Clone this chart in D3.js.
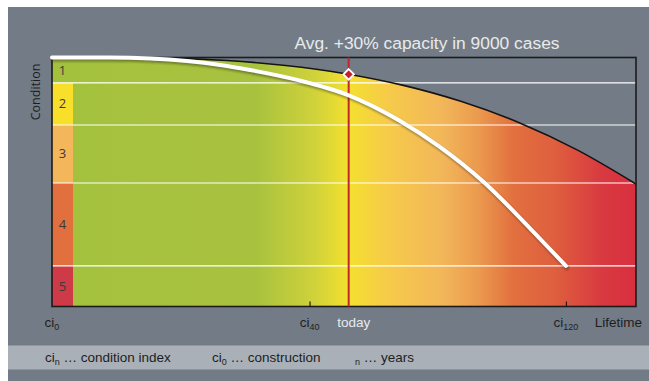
<!DOCTYPE html>
<html>
<head>
<meta charset="utf-8">
<script src="https://cdn.jsdelivr.net/npm/d3@7"></script>
<style>
  html, body { margin: 0; padding: 0; background: #ffffff; }
  svg { display: block; }
</style>
</head>
<body>
<svg id="chart" width="649" height="381"></svg>
<script>
// ---------- DATA ----------
const titleText = "Avg. +30% capacity in 9000 cases";
const conditionLabels = ["1", "2", "3", "4", "5"];
// condition scale: 0 = best (top), 100 = worst (bottom); band boundaries
const bandBounds = [0, 10.2, 27.1, 50.4, 83.7, 100];
const bandColors = ["#a4c13e", "#f7df2a", "#f3b65a", "#e1703e", "#ce3a48"];

// lifetime scale 0..100 (schematic)
const envelopeX = [0, 10, 20, 30, 40, 50, 60, 70, 80, 90, 100];
const envelopeY = [0, 0, 0.24, 1.2, 3.2, 6.4, 11.1, 17.6, 26.2, 37.2, 50.8];

const agingX = [0, 9.9, 16.8, 28.8, 33.9, 42, 50.7, 59.6, 66.4, 74.1, 81.8, 88];
const agingY = [0, 0, 0.4, 3.0, 5.0, 9.0, 15.1, 25.5, 35.9, 50.4, 68.5, 83.7];

const todayValue = 50.8;
const todayLabel = "today";
const tickValues = [0, 44.1, 88];
const tickSubs = ["0", "40", "120"];
const axisTitle = "Lifetime";
const yTitle = "Condition";

const gradientOffsets = [0, 35, 45, 50.8, 57, 67, 73, 79, 86, 94, 100];
const gradientColors = ["#a4c13e", "#a8c23e", "#d0d23a", "#f4e02e", "#f6cc48",
                        "#f2b65a", "#eb9a4e", "#e2703f", "#df5f3e", "#d93a40", "#d82f3f"];

const legendItems = [
  { main: "ci", sub: "n", rest: " \u2026 condition index" },
  { main: "ci", sub: "0", rest: " \u2026 construction" },
  { main: "",   sub: "n", rest: " \u2026 years" }
];

// ---------- LAYOUT ----------
const svg = d3.select("#chart");
const W = 649, H = 381;
const plot = { left: 52, right: 636, top: 57.5, bottom: 306.5 };
const bandColW = 21;

const x = d3.scaleLinear().domain([0, 100]).range([plot.left, plot.right]);
const y = d3.scaleLinear().domain([0, 100]).range([plot.top, plot.bottom]);

const bg = "#737c86";
const font = "'Liberation Sans', Arial, sans-serif";

// background
svg.append("rect").attr("x", 8).attr("y", 7).attr("width", W - 8).attr("height", H - 7).attr("fill", bg);
// legend band
svg.append("rect").attr("x", 8).attr("y", 345.5).attr("width", W - 8).attr("height", 24).attr("fill", "#a9b0b7");

const defs = svg.append("defs");
const grad = defs.append("linearGradient").attr("id", "lifeGrad")
  .attr("gradientUnits", "userSpaceOnUse")
  .attr("x1", x(0)).attr("x2", x(100)).attr("y1", 0).attr("y2", 0);
gradientOffsets.forEach((o, i) => {
  grad.append("stop").attr("offset", o / 100).attr("stop-color", gradientColors[i]);
});
const shadow = defs.append("filter").attr("id", "shadow").attr("x", "-10%").attr("y", "-10%").attr("width", "120%").attr("height", "120%");
shadow.append("feGaussianBlur").attr("stdDeviation", 1.2);

// envelope area
const envData = envelopeX.map((v, i) => [v, envelopeY[i]]);
const area = d3.area().x(d => x(d[0])).y0(y(100)).y1(d => y(d[1])).curve(d3.curveMonotoneX);
svg.append("path").datum(envData).attr("d", area).attr("fill", "url(#lifeGrad)");

// band column
const bands = conditionLabels.map((c, i) => ({ c, y0: bandBounds[i], y1: bandBounds[i + 1], color: bandColors[i] }));
svg.append("g").selectAll("rect").data(bands).join("rect")
  .attr("x", x(0)).attr("width", bandColW)
  .attr("y", d => y(d.y0)).attr("height", d => y(d.y1) - y(d.y0))
  .attr("fill", d => d.color);
svg.append("g").selectAll("text").data(bands).join("text")
  .attr("x", x(0) + bandColW / 2).attr("y", d => (y(d.y0) + y(d.y1)) / 2 + 4.5)
  .attr("text-anchor", "middle")
  .attr("font-family", "'Open Sans', sans-serif").attr("font-size", 13)
  .attr("fill", "#3a3a3a").text(d => d.c);

// white band boundaries
svg.append("g").selectAll("line").data(bandBounds.slice(1, -1)).join("line")
  .attr("x1", x(0)).attr("x2", x(100)).attr("y1", d => y(d)).attr("y2", d => y(d))
  .attr("stroke", "#ffffff").attr("stroke-width", 1.2);

// envelope line
const line = d3.line().x(d => x(d[0])).y(d => y(d[1])).curve(d3.curveMonotoneX);
svg.append("path").datum(envData).attr("d", line).attr("fill", "none")
  .attr("stroke", "#151515").attr("stroke-width", 1.6);

// frame
svg.append("rect").attr("x", x(0)).attr("y", y(0)).attr("width", x(100) - x(0)).attr("height", y(100) - y(0))
  .attr("fill", "none").attr("stroke", "#1b1b1b").attr("stroke-width", 1.6);

// axis ticks
const axis = d3.axisBottom(x).tickValues(tickValues.slice(1)).tickSize(-5).tickFormat("");
const axG = svg.append("g").attr("transform", `translate(0,${y(100)})`).call(axis);
axG.select(".domain").remove();
axG.selectAll(".tick line").attr("stroke", "#1b1b1b").attr("stroke-width", 1.2);

// today line
svg.append("line").attr("x1", x(todayValue)).attr("x2", x(todayValue))
  .attr("y1", y(0)).attr("y2", y(100)).attr("stroke", "#c1272d").attr("stroke-width", 2);

// aging curve with shadow
const agingData = agingX.map((v, i) => [v, agingY[i]]);
svg.append("path").datum(agingData).attr("d", line).attr("fill", "none")
  .attr("stroke", "rgba(40,40,20,0.45)").attr("stroke-width", 4).attr("stroke-linecap", "round")
  .attr("transform", "translate(1,2)").attr("filter", "url(#shadow)");
svg.append("path").datum(agingData).attr("d", line).attr("fill", "none")
  .attr("stroke", "#ffffff").attr("stroke-width", 4).attr("stroke-linecap", "round");

// diamond marker at envelope/today intersection
const envInterp = d3.scaleLinear().domain(envelopeX).range(envelopeY);
svg.append("path")
  .attr("d", d3.symbol().type(d3.symbolDiamond2).size(70)())
  .attr("transform", `translate(${x(todayValue)},${y(envInterp(todayValue))}) rotate(0)`)
  .attr("fill", "#c8202b").attr("stroke", "#ffffff").attr("stroke-width", 1.8);

// title
svg.append("text").attr("x", 427).attr("y", 48.5).attr("text-anchor", "middle")
  .attr("font-family", font).attr("font-size", 17.4).attr("fill", "#e8eaec").text(titleText);

// y title
svg.append("text").attr("transform", `translate(40,92) rotate(-90)`).attr("text-anchor", "middle")
  .attr("font-family", "'Open Sans', sans-serif").attr("font-size", 12.5).attr("fill", "#1e1e1e").text(yTitle);

// tick labels
const tl = svg.append("g").selectAll("text").data(tickValues).join("text")
  .attr("x", d => x(d)).attr("y", 327).attr("text-anchor", "middle")
  .attr("font-family", font).attr("font-size", 13.5).attr("fill", "#1e1e1e");
tl.append("tspan").text("ci");
tl.append("tspan").attr("font-size", 9).attr("dy", 3).text((d, i) => tickSubs[i]);

svg.append("text").attr("x", x(todayValue) + 5).attr("y", 327).attr("text-anchor", "middle")
  .attr("font-family", font).attr("font-size", 13.5).attr("fill", "#e8eaec").text(todayLabel);
svg.append("text").attr("x", x(100) + 6).attr("y", 327).attr("text-anchor", "end")
  .attr("font-family", font).attr("font-size", 13.5).attr("fill", "#1e1e1e").text(axisTitle);

// legend
const legendX = [45, 212, 355];
legendItems.forEach((it, i) => {
  const t = svg.append("text").attr("x", legendX[i]).attr("y", 362)
    .attr("font-family", font).attr("font-size", 13.5).attr("fill", "#1e1e1e");
  if (it.main) t.append("tspan").text(it.main);
  t.append("tspan").attr("font-size", 9).attr("dy", 3).text(it.sub);
  t.append("tspan").attr("dy", -3).text(it.rest);
});
</script>
</body>
</html>
